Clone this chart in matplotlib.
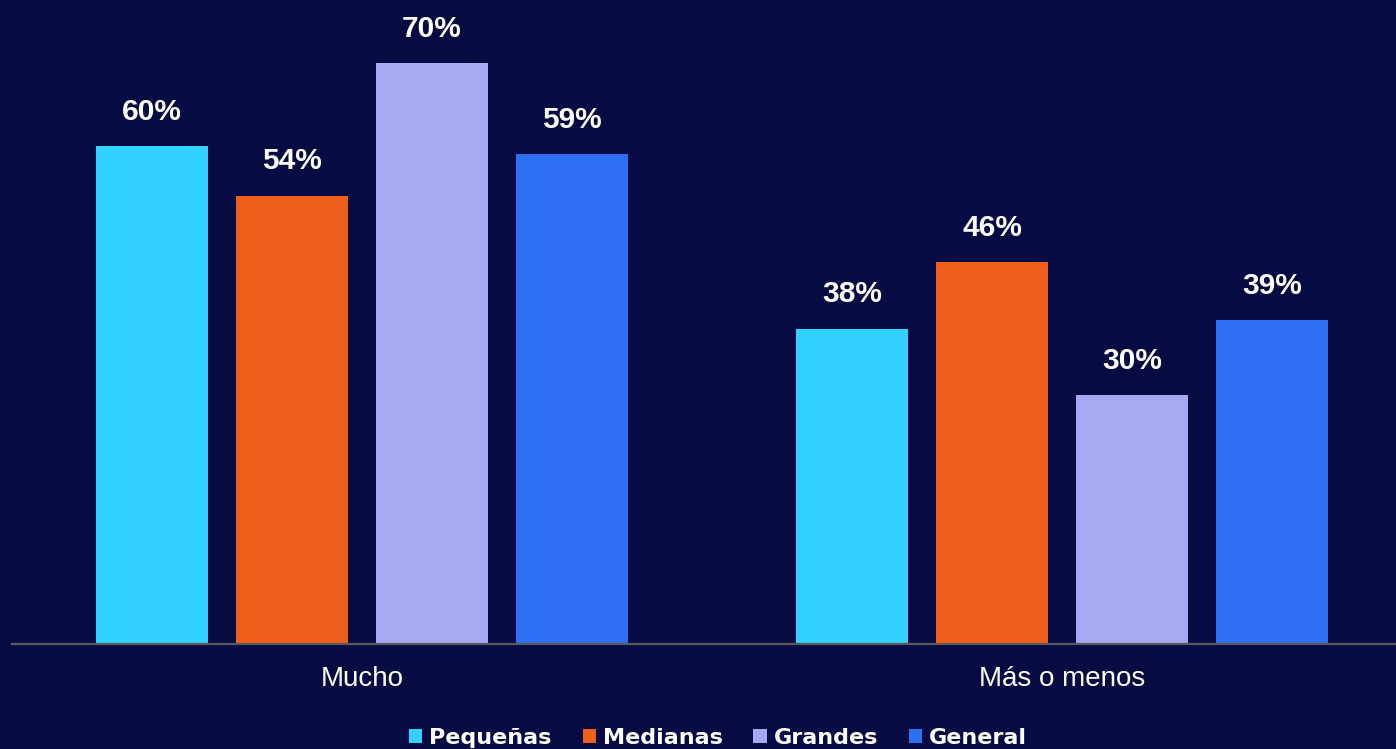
import matplotlib.pyplot as plt
import numpy as np
from matplotlib.patches import Patch

categories = ["Mucho", "Más o menos"]
series = ["Pequeñas", "Medianas", "Grandes", "General"]
pequenas = [60, 38]
medianas = [54, 46]
grandes = [70, 30]
general = [59, 39]
values = [pequenas, medianas, grandes, general]

colors = ["#31d2fe", "#ee5f1c", "#a6a8f2", "#2e6ef0"]
bg = "#060b43"

fig = plt.figure(figsize=(13.96, 7.49), dpi=100, facecolor=bg)
ax = fig.add_axes([12 / 1396, 105 / 749, 1384 / 1396, 639 / 749])
ax.set_facecolor(bg)

x = np.arange(len(categories))
width = 0.16
offsets = [-0.3, -0.1, 0.1, 0.3]

for vals, off, col in zip(values, offsets, colors):
    bars = ax.bar(x + off, vals, width, color=col)
    for b, v in zip(bars, vals):
        ax.annotate(f"{v}%", (b.get_x() + b.get_width() / 2, v),
                    xytext=(0, 19), textcoords="offset points",
                    ha="center", va="baseline", color="white",
                    fontsize=21.5, fontweight="bold",
                    family="Liberation Sans")

ax.set_xlim(-0.5, 1.477)
ax.set_ylim(0, 639 / 8.3)

for s in ["top", "left", "right"]:
    ax.spines[s].set_visible(False)
ax.spines["bottom"].set_color("#5a5a5a")
ax.spines["bottom"].set_linewidth(1.6)
ax.set_yticks([])
ax.set_xticks(x)
ax.set_xticklabels(categories, fontsize=20, color="white",
                   family="Liberation Sans")
ax.tick_params(axis="x", length=0, pad=16)

handles = [Patch(facecolor=c, edgecolor="none") for c in colors]
leg = fig.legend(handles, series, loc="center", ncol=4,
                 bbox_to_anchor=(718 / 1396, 1 - 738 / 749),
                 frameon=False, handlelength=0.6, handleheight=0.6,
                 handletextpad=0.3, columnspacing=1.4,
                 prop={"family": "DejaVu Sans", "weight": "bold", "size": 16})
for t in leg.get_texts():
    t.set_color("white")

fig.savefig("out.png", dpi=100, facecolor=bg)
